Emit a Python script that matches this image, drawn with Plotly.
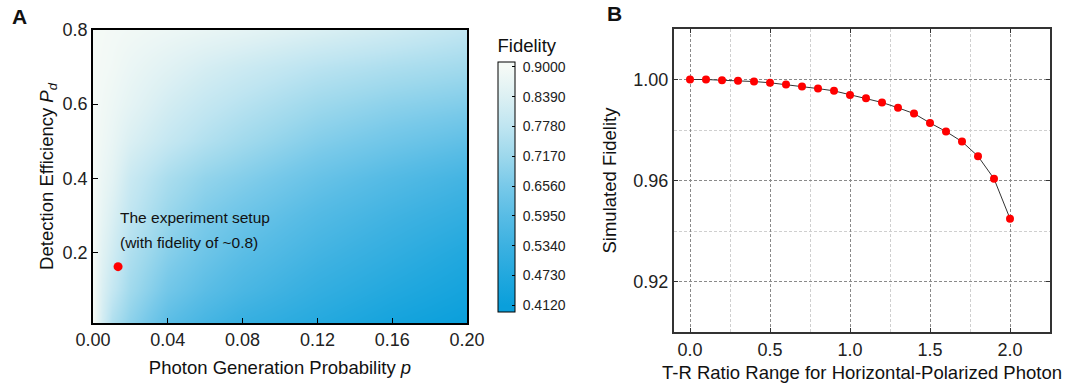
import plotly.graph_objects as go

# ---------------- Panel A data (heatmap estimates) ----------------
p_vals = [0.0, 0.005, 0.01, 0.02, 0.04, 0.06, 0.08, 0.12, 0.16, 0.20]
pd_vals = [0.01, 0.1, 0.2, 0.3, 0.4, 0.5, 0.6, 0.7, 0.8]
fid_pd001 = [0.90, 0.82, 0.75, 0.69, 0.60, 0.555, 0.52, 0.48, 0.44, 0.412]
fid_pd01 = [0.90, 0.835, 0.79, 0.725, 0.645, 0.60, 0.565, 0.515, 0.475, 0.44]
fid_pd02 = [0.90, 0.85, 0.815, 0.75, 0.68, 0.635, 0.60, 0.55, 0.51, 0.47]
fid_pd03 = [0.90, 0.865, 0.835, 0.78, 0.71, 0.665, 0.635, 0.585, 0.545, 0.51]
fid_pd04 = [0.90, 0.875, 0.855, 0.80, 0.74, 0.70, 0.675, 0.625, 0.585, 0.55]
fid_pd05 = [0.90, 0.884, 0.87, 0.835, 0.79, 0.755, 0.725, 0.675, 0.64, 0.61]
fid_pd06 = [0.90, 0.89, 0.88, 0.86, 0.82, 0.79, 0.765, 0.72, 0.69, 0.67]
fid_pd07 = [0.90, 0.895, 0.89, 0.875, 0.85, 0.825, 0.805, 0.77, 0.745, 0.725]
fid_pd08 = [0.90, 0.898, 0.895, 0.89, 0.88, 0.87, 0.86, 0.835, 0.81, 0.78]
fid_grid = [fid_pd001, fid_pd01, fid_pd02, fid_pd03, fid_pd04,
            fid_pd05, fid_pd06, fid_pd07, fid_pd08]

exp_p = [0.0134]
exp_pd = [0.162]

cbar_ticks = [0.9000, 0.8390, 0.7780, 0.7170, 0.6560, 0.5950, 0.5340, 0.4730, 0.4120]
# colour of the scale at each tick value (bottom to top)
cbar_colors = ["#0a9fdb", "#22a8de", "#3cb1e1", "#58bce5", "#78c9e9",
               "#9dd8ec", "#bfe5f1", "#dcf0f3", "#f5faf6"]

# ---------------- Panel B data ----------------
tr_ratio = [0.0, 0.1, 0.2, 0.3, 0.4, 0.5, 0.6, 0.7, 0.8, 0.9, 1.0,
            1.1, 1.2, 1.3, 1.4, 1.5, 1.6, 1.7, 1.8, 1.9, 2.0]
sim_fid = [1.0000, 1.0000, 0.9997, 0.9995, 0.9992, 0.9987, 0.9980, 0.9972,
           0.9964, 0.9955, 0.9939, 0.9926, 0.9909, 0.9888, 0.9865, 0.9828,
           0.9794, 0.9754, 0.9696, 0.9607, 0.9449]

W, H = 1073, 392
FONT = "Liberation Sans, Arial, sans-serif"
ZMIN, ZMAX = 0.3983, 0.9102

def px_x(v):
    return v / W

def px_y(v):
    return 1 - v / H

tick_vals_up = sorted(cbar_ticks)
colorscale = [[0.0, cbar_colors[0]]]
for v, c in zip(tick_vals_up, cbar_colors):
    colorscale.append([(v - ZMIN) / (ZMAX - ZMIN), c])
colorscale.append([1.0, cbar_colors[-1]])

fig = go.Figure()

fig.add_trace(go.Heatmap(
    x=p_vals, y=pd_vals, z=fid_grid,
    zmin=ZMIN, zmax=ZMAX, zsmooth="best",
    colorscale=colorscale,
    xaxis="x", yaxis="y",
    colorbar=dict(
        x=px_x(498), xanchor="left", xpad=0,
        y=(H - 312) / H, yanchor="bottom", ypad=0,
        len=276 / H, lenmode="fraction",
        thickness=17,
        outlinewidth=1, outlinecolor="black",
        tickvals=cbar_ticks,
        ticktext=["\u00a0" + f"{t:.4f}" for t in cbar_ticks],
        ticks="inside", ticklen=3, tickcolor="black",
        tickfont=dict(family=FONT, size=14, color="#222"),
        title=dict(text="Fidelity", side="top",
                   font=dict(family=FONT, size=18.5, color="#111")),
    ),
    hoverinfo="skip",
))

fig.add_trace(go.Scatter(
    x=exp_p, y=exp_pd, mode="markers",
    marker=dict(color="#ff0000", size=9),
    xaxis="x", yaxis="y", showlegend=False,
))

fig.add_trace(go.Scatter(
    x=tr_ratio, y=sim_fid, mode="lines+markers",
    line=dict(color="#333333", width=1),
    marker=dict(color="#ff0000", size=8),
    xaxis="x2", yaxis="y2", showlegend=False,
))

tickfont = dict(family=FONT, size=18, color="#222")
titlefont = dict(family=FONT, size=18.5, color="#111")
DASH_MAJ = "3px,2px"
DASH_MIN = "3px,2px"

fig.update_layout(
    width=W, height=H,
    margin=dict(l=0, r=0, t=0, b=0, autoexpand=False),
    paper_bgcolor="white", plot_bgcolor="white",
    showlegend=False,
    xaxis=dict(
        domain=[px_x(93), px_x(467)], anchor="y", automargin=False,
        range=[0, 0.2], tickvals=[0, 0.04, 0.08, 0.12, 0.16, 0.2],
        tickformat=".2f", ticks="inside", ticklen=5, tickcolor="black",
        showline=True, linecolor="black", linewidth=1.5, mirror=True,
        showgrid=False, zeroline=False, tickfont=tickfont,
        title=dict(text="Photon Generation Probability <i>p</i>",
                   font=titlefont, standoff=12),
    ),
    yaxis=dict(
        domain=[px_y(323), px_y(30)], anchor="x", automargin=False,
        range=[0.01, 0.8], tickvals=[0.2, 0.4, 0.6, 0.8],
        tickformat=".1f", ticks="inside", ticklen=5, tickcolor="black",
        showline=True, linecolor="black", linewidth=1.5, mirror=True,
        showgrid=False, zeroline=False, tickfont=tickfont,
        title=dict(text="Detection Efficiency <i>P<sub>d</sub></i>",
                   font=titlefont, standoff=4),
    ),
    xaxis2=dict(
        domain=[px_x(674), px_x(1050)], anchor="y2", automargin=False,
        range=[-0.1, 2.25], tick0=0, dtick=0.5, tickformat=".1f",
        ticks="inside", ticklen=4, tickcolor="#333",
        showline=True, linecolor="#333", linewidth=2, mirror="ticks",
        showgrid=True, gridcolor="#8a8a8a", griddash=DASH_MAJ, gridwidth=1,
        minor=dict(dtick=0.25, tick0=0, showgrid=True, gridcolor="#cfcfcf",
                   griddash=DASH_MIN, gridwidth=1, ticks=""),
        zeroline=False, tickfont=tickfont,
        title=dict(text="T-R Ratio Range for Horizontal-Polarized Photon",
                   font=titlefont, standoff=7),
    ),
    yaxis2=dict(
        domain=[px_y(332), px_y(29)], anchor="x2", automargin=False,
        range=[0.9, 1.02], tick0=0.92, dtick=0.04, tickformat=".2f",
        ticks="inside", ticklen=4, tickcolor="#333",
        showline=True, linecolor="#333", linewidth=2, mirror="ticks",
        showgrid=True, gridcolor="#8a8a8a", griddash=DASH_MAJ, gridwidth=1,
        minor=dict(dtick=0.02, tick0=0.92, showgrid=True, gridcolor="#cfcfcf",
                   griddash=DASH_MIN, gridwidth=1, ticks=""),
        zeroline=False, tickfont=tickfont,
        title=dict(text="Simulated Fidelity", font=titlefont, standoff=12),
    ),
    annotations=[
        dict(text="<b>A</b>", x=px_x(10), y=px_y(16), xref="paper", yref="paper",
             xanchor="left", yanchor="middle", showarrow=False,
             font=dict(family=FONT, size=21, color="#111")),
        dict(text="<b>B</b>", x=px_x(605), y=px_y(13), xref="paper", yref="paper",
             xanchor="left", yanchor="middle", showarrow=False,
             font=dict(family=FONT, size=21, color="#111")),
        dict(text="The experiment setup", x=px_x(118), y=px_y(217),
             xref="paper", yref="paper", xanchor="left", yanchor="middle",
             showarrow=False, font=dict(family=FONT, size=15.5, color="#111")),
        dict(text="(with fidelity of ~0.8)", x=px_x(118), y=px_y(242),
             xref="paper", yref="paper", xanchor="left", yanchor="middle",
             showarrow=False, font=dict(family=FONT, size=15.5, color="#111")),
    ],
)

fig.write_html("out.html")
